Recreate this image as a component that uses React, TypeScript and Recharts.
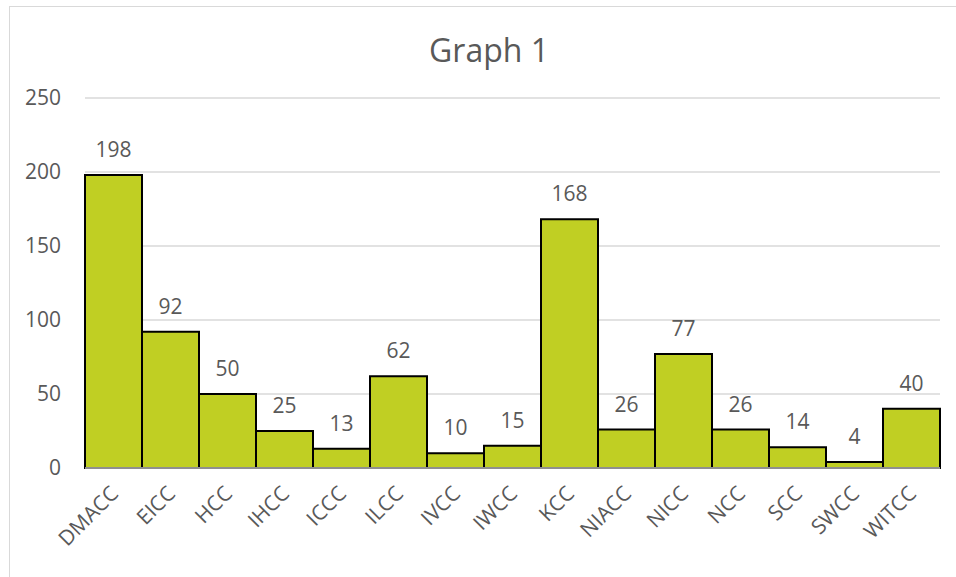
import React from "react";
import { BarChart, Bar, XAxis, YAxis, CartesianGrid, LabelList } from "recharts";

const categories = ["DMACC", "EICC", "HCC", "IHCC", "ICCC", "ILCC", "IVCC", "IWCC", "KCC", "NIACC", "NICC", "NCC", "SCC", "SWCC", "WITCC"];
const values = [198, 92, 50, 25, 13, 62, 10, 15, 168, 26, 77, 26, 14, 4, 40];
const yTicks = [0, 50, 100, 150, 200, 250];
const title = "Graph 1";

const data = categories.map((c, i) => ({ name: c, value: values[i] }));

const FONT = "'Open Sans', sans-serif";
const TEXT = "#595959";

const XTick = (props: any) => {
  const { x, y, payload } = props;
  return (
    <g transform={`translate(${x + 6},${y + 19})`}>
      <text
        x={0}
        y={0}
        transform="rotate(-45)"
        textAnchor="end"
        fill={TEXT}
        fontSize={21}
        fontFamily={FONT}
      >
        {payload.value}
      </text>
    </g>
  );
};

export default function App() {
  return (
    <div style={{ position: "absolute", left: 0, top: 0, width: 956, height: 577, background: "#fff", overflow: "hidden" }}>
      <div style={{ position: "absolute", left: 9, top: 6, width: 1000, height: 700, border: "1.5px solid #D9D9D9", boxSizing: "border-box" }} />
      <div style={{ position: "absolute", left: 0, top: 28, width: 978, textAlign: "center", fontFamily: FONT, fontSize: 32, color: TEXT }}>
        {title}
      </div>
      <div style={{ position: "absolute", left: 0, top: 0 }}>
        <BarChart
          width={956}
          height={577}
          data={data}
          margin={{ top: 98, right: 16, bottom: 0, left: 0 }}
          barCategoryGap={0}
        >
          <CartesianGrid vertical={false} stroke="#D9D9D9" strokeWidth={1.5} />
          <XAxis
            dataKey="name"
            interval={0}
            tickLine={false}
            axisLine={{ stroke: "#BFBFBF", strokeWidth: 1.5 }}
            tick={<XTick />}
            height={109}
          />
          <YAxis
            domain={[0, 250]}
            ticks={yTicks}
            width={85}
            tickLine={false}
            axisLine={false}
            tickSize={0}
            tickMargin={24}
            tick={{ fill: TEXT, fontSize: 21, fontFamily: FONT }}
          />
          <Bar dataKey="value" fill="#C0CF23" stroke="#000" strokeWidth={2} isAnimationActive={false}>
            <LabelList dataKey="value" position="top" offset={18} fill={TEXT} fontSize={21} fontFamily={FONT} />
          </Bar>
        </BarChart>
      </div>
    </div>
  );
}
